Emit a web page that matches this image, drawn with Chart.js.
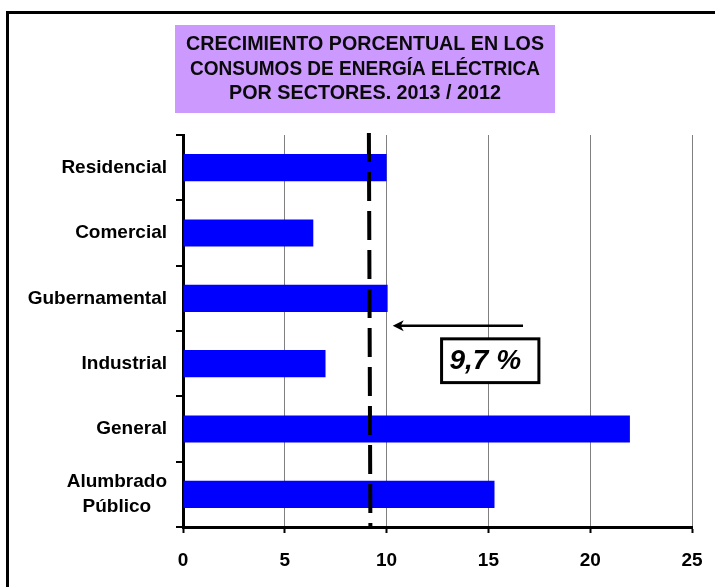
<!DOCTYPE html>
<html>
<head>
<meta charset="utf-8">
<script src="https://cdn.jsdelivr.net/npm/chart.js@4/dist/chart.umd.min.js"></script>
<style>
  html, body { margin: 0; padding: 0; background: #ffffff; }
  #wrap { width: 715px; height: 587px; position: relative; }
</style>
</head>
<body>
<div id="wrap"><canvas id="c" width="715" height="587"></canvas></div>
<script>
// ---- data ----
const categories = ['Residencial', 'Comercial', 'Gubernamental', 'Industrial', 'General', ['Alumbrado', 'Público\u00A0\u00A0\u00A0']];
const growthValues = [10.0, 6.4, 10.05, 7.0, 21.95, 15.3];
const xTicks = [0, 5, 10, 15, 20, 25];
const titleLines = ['CRECIMIENTO PORCENTUAL EN LOS', 'CONSUMOS DE ENERGÍA ELÉCTRICA', 'POR SECTORES. 2013 / 2012'];
const averageLinePos = 9.13;      // where the dashed average line is drawn
const averageLabel = '9,7 %';
const arrowFrom = 16.7;           // arrow tail (x value)
const arrowTo = 10.3;             // arrow head (x value)

const FONT = "'Liberation Sans', Arial, sans-serif";

const decor = {
  id: 'decor',
  beforeDraw(chart) {
    const ctx = chart.ctx;
    ctx.save();
    ctx.fillStyle = '#ffffff';
    ctx.fillRect(0, 0, chart.width, chart.height);
    // outer frame
    ctx.strokeStyle = '#000';
    ctx.lineWidth = 3;
    ctx.strokeRect(7.5, 12.5, 720, 600);
    // title box
    ctx.fillStyle = '#CC99FF';
    ctx.fillRect(175, 25, 380, 88);
    ctx.fillStyle = '#0a0a0a';
    ctx.font = 'bold 19px ' + FONT;
    ctx.textAlign = 'center';
    ctx.textBaseline = 'middle';
    const ys = [45, 70, 94];
    titleLines.forEach((t, i) => {
      const w = ctx.measureText(t).width;
      const target = [358, 350, 272][i];
      const s = target / w;
      ctx.save();
      ctx.translate(365, ys[i]);
      ctx.scale(s, 1.03);
      ctx.fillText(t, 0, 0);
      ctx.restore();
    });
    ctx.restore();
  },
  afterDatasetsDraw(chart) {
    const ctx = chart.ctx;
    const xs = chart.scales.x, ysc = chart.scales.y;
    const area = chart.chartArea;
    ctx.save();
    // dashed average line
    const lx = xs.getPixelForValue(averageLinePos);
    ctx.strokeStyle = '#000';
    ctx.lineWidth = 4;
    ctx.setLineDash([29, 10]);
    ctx.beginPath();
    ctx.moveTo(lx, area.top - 2);
    ctx.lineTo(lx + 1.5, area.bottom);
    ctx.stroke();
    ctx.setLineDash([]);
    // arrow
    const step = ysc.getPixelForValue(1) - ysc.getPixelForValue(0);
    const ay = ysc.getPixelForValue(2) + step * 0.42;
    const ax1 = xs.getPixelForValue(arrowFrom), ax2 = xs.getPixelForValue(arrowTo);
    ctx.lineWidth = 2.5;
    ctx.beginPath();
    ctx.moveTo(ax1, ay);
    ctx.lineTo(ax2 + 6, ay);
    ctx.stroke();
    ctx.fillStyle = '#000';
    ctx.beginPath();
    ctx.moveTo(ax2, ay);
    ctx.lineTo(ax2 + 11, ay - 5.5);
    ctx.lineTo(ax2 + 8, ay);
    ctx.lineTo(ax2 + 11, ay + 5.5);
    ctx.closePath();
    ctx.fill();
    // label box
    const bx1 = xs.getPixelForValue(12.7), bx2 = xs.getPixelForValue(17.48);
    const by1 = ysc.getPixelForValue(2) + step * 0.62, by2 = ysc.getPixelForValue(2) + step * 1.29;
    ctx.fillStyle = '#fff';
    ctx.fillRect(bx1, by1, bx2 - bx1, by2 - by1);
    ctx.lineWidth = 3;
    ctx.strokeRect(bx1, by1, bx2 - bx1, by2 - by1);
    ctx.fillStyle = '#000';
    ctx.font = 'italic bold 28px ' + FONT;
    ctx.textAlign = 'center';
    ctx.textBaseline = 'middle';
    ctx.fillText(averageLabel, (bx1 + bx2) / 2 - 5, (by1 + by2) / 2 + 1);
    ctx.restore();
  }
};

new Chart(document.getElementById('c'), {
  type: 'bar',
  data: {
    labels: categories,
    datasets: [{
      data: growthValues,
      backgroundColor: '#0000FF',
      borderWidth: 0,
      barPercentage: 0.415,
      categoryPercentage: 1.0
    }]
  },
  options: {
    indexAxis: 'y',
    responsive: false,
    animation: false,
    events: [],
    layout: { padding: { left: 0, top: 135, right: 23, bottom: 0 } },
    plugins: {
      legend: { display: false },
      title: { display: false },
      tooltip: { enabled: false }
    },
    scales: {
      x: {
        type: 'linear',
        min: 0,
        max: 25,
        afterBuildTicks(scale) { scale.ticks = xTicks.map(v => ({ value: v })); },
        afterFit(scale) { scale.height = 60; scale.paddingLeft = 0; scale.paddingRight = 0; },
        grid: {
          color: '#808080',
          lineWidth: 1,
          tickColor: '#000',
          tickLength: 6,
          tickWidth: 2
        },
        border: { color: '#000', width: 3 },
        ticks: {
          color: '#000',
          font: { family: FONT, size: 19, weight: 'bold' },
          padding: 16,
          maxRotation: 0
        }
      },
      y: {
        afterFit(scale) { scale.width = 183; },
        grid: {
          display: true,
          drawOnChartArea: false,
          offset: true,
          color: '#000',
          tickColor: '#000',
          tickLength: 7,
          lineWidth: 2
        },
        border: { color: '#000', width: 3 },
        ticks: {
          color: '#000',
          font: { family: FONT, size: 19, weight: 'bold', lineHeight: 1.35 },
          padding: 9
        }
      }
    }
  },
  plugins: [decor]
});
</script>
</body>
</html>
